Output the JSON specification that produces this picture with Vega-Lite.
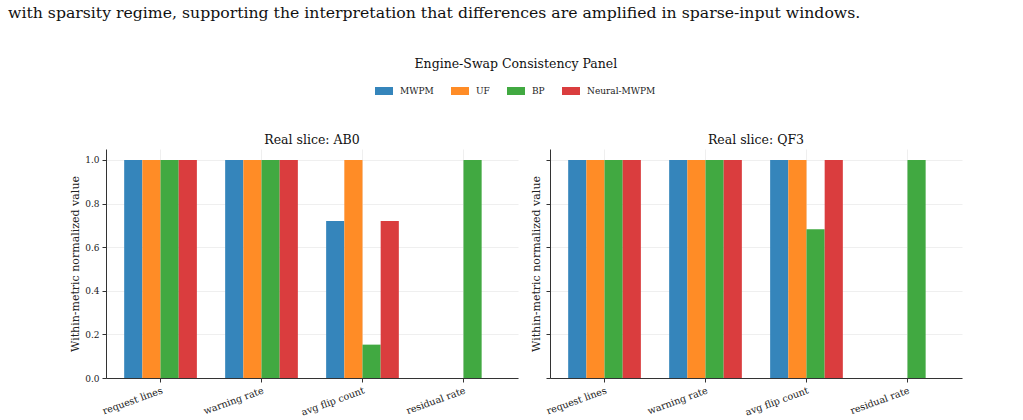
{
  "$schema": "https://vega.github.io/schema/vega-lite/v6.json",
  "background": "white",
  "padding": {"left": 8, "top": 4, "right": 5, "bottom": 4},
  "title": {
    "text": "with sparsity regime, supporting the interpretation that differences are amplified in sparse-input windows.",
    "anchor": "start",
    "frame": "group",
    "dx": -98,
    "font": "DejaVu Serif",
    "fontSize": 15.7,
    "fontWeight": "normal",
    "color": "#111",
    "offset": 36
  },
  "datasets": {
    "scores": [
      {"slice": "AB0", "metric": "request lines", "engine": "MWPM", "value": 1.0},
      {"slice": "AB0", "metric": "request lines", "engine": "UF", "value": 1.0},
      {"slice": "AB0", "metric": "request lines", "engine": "BP", "value": 1.0},
      {"slice": "AB0", "metric": "request lines", "engine": "Neural-MWPM", "value": 1.0},
      {"slice": "AB0", "metric": "warning rate", "engine": "MWPM", "value": 1.0},
      {"slice": "AB0", "metric": "warning rate", "engine": "UF", "value": 1.0},
      {"slice": "AB0", "metric": "warning rate", "engine": "BP", "value": 1.0},
      {"slice": "AB0", "metric": "warning rate", "engine": "Neural-MWPM", "value": 1.0},
      {"slice": "AB0", "metric": "avg flip count", "engine": "MWPM", "value": 0.72},
      {"slice": "AB0", "metric": "avg flip count", "engine": "UF", "value": 1.0},
      {"slice": "AB0", "metric": "avg flip count", "engine": "BP", "value": 0.153},
      {"slice": "AB0", "metric": "avg flip count", "engine": "Neural-MWPM", "value": 0.72},
      {"slice": "AB0", "metric": "residual rate", "engine": "MWPM", "value": 0.0},
      {"slice": "AB0", "metric": "residual rate", "engine": "UF", "value": 0.0},
      {"slice": "AB0", "metric": "residual rate", "engine": "BP", "value": 1.0},
      {"slice": "AB0", "metric": "residual rate", "engine": "Neural-MWPM", "value": 0.0},
      {"slice": "QF3", "metric": "request lines", "engine": "MWPM", "value": 1.0},
      {"slice": "QF3", "metric": "request lines", "engine": "UF", "value": 1.0},
      {"slice": "QF3", "metric": "request lines", "engine": "BP", "value": 1.0},
      {"slice": "QF3", "metric": "request lines", "engine": "Neural-MWPM", "value": 1.0},
      {"slice": "QF3", "metric": "warning rate", "engine": "MWPM", "value": 1.0},
      {"slice": "QF3", "metric": "warning rate", "engine": "UF", "value": 1.0},
      {"slice": "QF3", "metric": "warning rate", "engine": "BP", "value": 1.0},
      {"slice": "QF3", "metric": "warning rate", "engine": "Neural-MWPM", "value": 1.0},
      {"slice": "QF3", "metric": "avg flip count", "engine": "MWPM", "value": 1.0},
      {"slice": "QF3", "metric": "avg flip count", "engine": "UF", "value": 1.0},
      {"slice": "QF3", "metric": "avg flip count", "engine": "BP", "value": 0.682},
      {"slice": "QF3", "metric": "avg flip count", "engine": "Neural-MWPM", "value": 1.0},
      {"slice": "QF3", "metric": "residual rate", "engine": "MWPM", "value": 0.0},
      {"slice": "QF3", "metric": "residual rate", "engine": "UF", "value": 0.0},
      {"slice": "QF3", "metric": "residual rate", "engine": "BP", "value": 1.0},
      {"slice": "QF3", "metric": "residual rate", "engine": "Neural-MWPM", "value": 0.0}
    ]
  },
  "resolve": {"legend": {"color": "independent"}},
  "vconcat": [
    {
      "title": {
        "text": "Engine-Swap Consistency Panel",
        "anchor": "middle",
        "fontSize": 12.5,
        "offset": 12
      },
      "spacing": 12,
      "hconcat": [
        {
          "width": 412,
          "height": 229,
          "title": {"text": "Real slice: AB0", "offset": 3},
          "data": {"name": "scores"},
          "transform": [{"filter": "datum.slice === 'AB0'"}],
          "mark": {"type": "bar"},
          "encoding": {
            "x": {
              "field": "metric",
              "type": "nominal",
              "sort": ["request lines", "warning rate", "avg flip count", "residual rate"],
              "scale": {"paddingInner": 0.28, "paddingOuter": 0.18},
              "axis": {"title": null, "labelAngle": -20, "labelAlign": "right", "labelBaseline": "top", "labelFontSize": 9.6, "bandPosition": 0.5, "grid": true}
            },
            "xOffset": {
              "field": "engine",
              "type": "nominal",
              "sort": ["MWPM", "UF", "BP", "Neural-MWPM"]
            },
            "y": {
              "field": "value",
              "type": "quantitative",
              "scale": {"domain": [0, 1.05], "nice": false},
              "axis": {"title": "Within-metric normalized value", "values": [0, 0.2, 0.4, 0.6, 0.8, 1.0], "format": ".1f", "titlePadding": 4}
            },
            "color": {
              "field": "engine",
              "type": "nominal",
              "sort": ["MWPM", "UF", "BP", "Neural-MWPM"],
              "scale": {"domain": ["MWPM", "UF", "BP", "Neural-MWPM"], "range": ["#3585bb", "#ff8c26", "#41a941", "#da3d3e"]},
              "legend": {"title": null}
            }
          }
        },
        {
          "width": 412,
          "height": 229,
          "title": {"text": "Real slice: QF3", "offset": 3},
          "data": {"name": "scores"},
          "transform": [{"filter": "datum.slice === 'QF3'"}],
          "mark": {"type": "bar"},
          "encoding": {
            "x": {
              "field": "metric",
              "type": "nominal",
              "sort": ["request lines", "warning rate", "avg flip count", "residual rate"],
              "scale": {"paddingInner": 0.28, "paddingOuter": 0.18},
              "axis": {"title": null, "labelAngle": -20, "labelAlign": "right", "labelBaseline": "top", "labelFontSize": 9.6, "bandPosition": 0.5, "grid": true}
            },
            "xOffset": {
              "field": "engine",
              "type": "nominal",
              "sort": ["MWPM", "UF", "BP", "Neural-MWPM"]
            },
            "y": {
              "field": "value",
              "type": "quantitative",
              "scale": {"domain": [0, 1.05], "nice": false},
              "axis": {"title": "Within-metric normalized value", "values": [0, 0.2, 0.4, 0.6, 0.8, 1.0], "labels": false, "titlePadding": 4}
            },
            "color": {
              "field": "engine",
              "type": "nominal",
              "sort": ["MWPM", "UF", "BP", "Neural-MWPM"],
              "scale": {"domain": ["MWPM", "UF", "BP", "Neural-MWPM"], "range": ["#3585bb", "#ff8c26", "#41a941", "#da3d3e"]},
              "legend": {"title": null}
            }
          }
        }
      ]
    }
  ],
  "config": {
    "font": "DejaVu Serif",
    "view": {"stroke": null},
    "title": {"font": "DejaVu Serif", "fontWeight": "normal", "fontSize": 12.5, "color": "#111"},
    "axis": {
      "labelFont": "DejaVu Serif",
      "labelFontSize": 9,
      "labelColor": "#222",
      "titleFont": "DejaVu Serif",
      "titleFontSize": 11,
      "titleFontWeight": "normal",
      "titleColor": "#222",
      "domainColor": "#333",
      "domainWidth": 1,
      "tickColor": "#333",
      "tickSize": 4,
      "labelPadding": 3,
      "gridColor": "#ebebeb",
      "gridWidth": 0.8
    },
    "legend": {
      "orient": "top",
      "direction": "horizontal",
      "offset": 37,
      "labelFont": "DejaVu Serif",
      "labelFontSize": 9,
      "labelColor": "#222",
      "labelOffset": 7,
      "columnPadding": 17,
      "symbolType": "M-1,-0.444H1V0.444H-1Z",
      "symbolSize": 324,
      "symbolStrokeWidth": 0,
      "symbolOpacity": 1,
      "layout": {"top": {"anchor": "middle"}}
    }
  }
}
